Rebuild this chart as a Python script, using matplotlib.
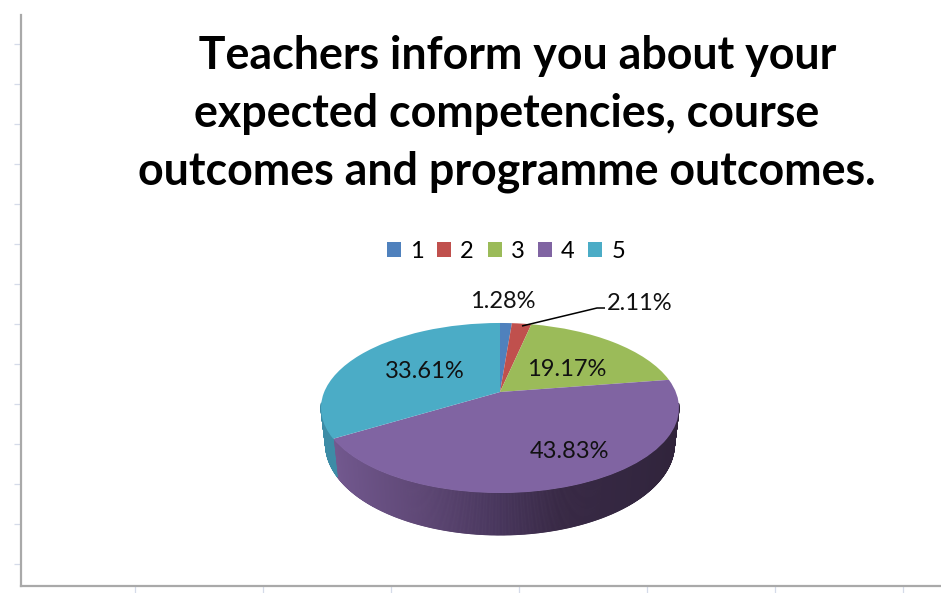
import numpy as np
import matplotlib
matplotlib.use("Agg")
import matplotlib.pyplot as plt
from matplotlib.transforms import Transform
from matplotlib.collections import PolyCollection

# ---- data ----
categories = ["1", "2", "3", "4", "5"]
values = [1.28, 2.11, 19.17, 43.83, 33.61]
value_labels = ["1.28%", "2.11%", "19.17%", "43.83%", "33.61%"]
title_text = ("  Teachers inform you about your\n"
              "expected competencies, course\n"
              "outcomes and programme outcomes.")

# ---- style ----
colors = ["#4f81bd", "#c0504d", "#9bbb59", "#8064a2", "#4bacc6"]
label_xy = [(503, 301), (640, 303), (567, 369), (570, 451), (425, 371)]
FONT = "Lato"

# perspective of the pie's top face (pixels)
CX, CY, A, B, K = 500.0, 392.0, 175.8, 82.0, 0.188


class Persp(Transform):
    input_dims = 2
    output_dims = 2
    is_separable = False
    has_inverse = False

    def transform_non_affine(self, xy):
        xy = np.asarray(xy, float)
        d = 1 + K * xy[:, 1]
        return np.column_stack([CX + A * xy[:, 0] / d, CY - B * xy[:, 1] / d])


W, H = 941, 593
fig = plt.figure(figsize=(W / 100, H / 100), dpi=100, facecolor="white")
L, R, T, Bt = 21, 941, 15, 586
ax = fig.add_axes([L / W, 1 - Bt / H, (R - L) / W, (Bt - T) / H])

# top face
wedges, _ = ax.pie(values, colors=colors, startangle=90, counterclock=False,
                   radius=1, wedgeprops=dict(linewidth=0))
proj = Persp()
for w in wedges:
    w.set_transform(proj + ax.transData)
    w.set_zorder(3)

ax.set_aspect("auto")
ax.set_frame_on(True)
ax.set_xlim(L, R)
ax.set_ylim(Bt, T)

# side wall, built from the same shares
shade_x = [321, 340, 420, 500, 560, 640, 679]
shade = {
    3: ([0.47, 0.37, 0.58], [0.44, 0.34, 0.55], [0.37, 0.28, 0.46],
        [0.28, 0.21, 0.36], [0.22, 0.16, 0.27], [0.20, 0.15, 0.25], [0.19, 0.14, 0.23]),
    4: ([0.24, 0.55, 0.65],) * 7,
}
edges = np.concatenate([[0], np.cumsum(values)]) / sum(values) * 2 * np.pi
quads, quad_cols = [], []
for i in (3, 4):
    n = max(4, int((edges[i + 1] - edges[i]) * 180))
    th = np.linspace(edges[i], edges[i + 1], n + 1)
    pts = proj.transform(np.column_stack([np.sin(th), np.cos(th)]))
    low = np.column_stack([CX + (pts[:, 0] - CX) * 0.975,
                           pts[:, 1] + 35 + 0.07 * (pts[:, 1] - CY)])
    ramp = np.array(shade[i])
    for j in range(n):
        if pts[j, 1] < 403:        # hidden behind the top face
            continue
        quads.append([pts[j], pts[j + 1], low[j + 1], low[j]])
        xm = 0.5 * (pts[j, 0] + pts[j + 1, 0])
        quad_cols.append([np.interp(xm, shade_x, ramp[:, c]) for c in range(3)])
ax.add_collection(PolyCollection(quads, facecolors=quad_cols, edgecolors=quad_cols,
                                 linewidths=0.6, zorder=2))

# axis frame
for s in ("top", "right"):
    ax.spines[s].set_visible(False)
for s in ("left", "bottom"):
    ax.spines[s].set_color("#a9a9a9")
    ax.spines[s].set_linewidth(1.6)
ax.set_xticks(np.arange(135, 941, 128))
ax.set_yticks(np.arange(44, 586, 40))
ax.tick_params(length=5, width=0.9, color="#d5dbe9", labelbottom=False, labelleft=False)

# texts
ax.text(506.5, 114, title_text, ha="center", va="center", fontsize=32.2,
        fontweight="bold", family=FONT, color="black", linespacing=1.46, zorder=5)
for (x, y), s in zip(label_xy, value_labels):
    ax.text(x, y, s, ha="center", va="center", fontsize=17, family=FONT,
            color="#111111", zorder=5)
ax.plot([522, 597, 605], [326, 308, 308], color="black", lw=1.1, zorder=4,
        solid_capstyle="butt")

leg = ax.legend(wedges, categories, ncol=5, loc="center",
                bbox_to_anchor=(506, 251), bbox_transform=ax.transData,
                frameon=False, prop=dict(family=FONT, size=17),
                handlelength=0.59, handleheight=0.62, handletextpad=0.38,
                columnspacing=0.58, borderpad=0, borderaxespad=0)

fig.savefig("out.png", dpi=100, facecolor="white")
